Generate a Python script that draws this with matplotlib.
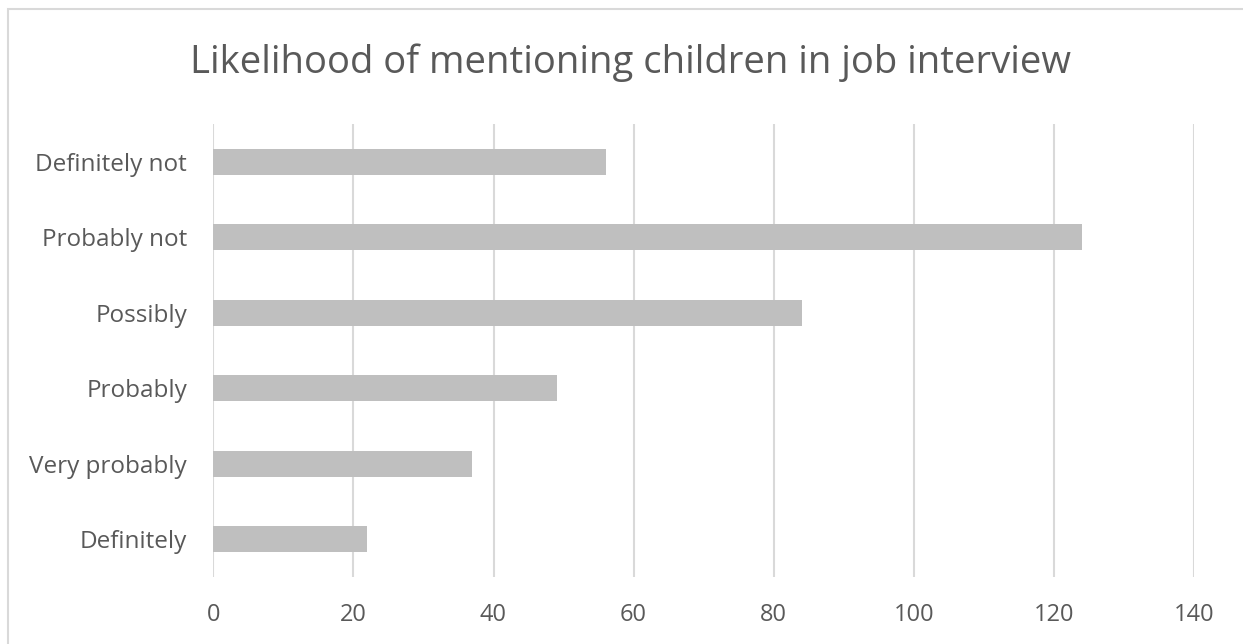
import matplotlib
matplotlib.use("Agg")
import matplotlib.pyplot as plt
from matplotlib.patches import Rectangle

categories = ["Definitely not", "Probably not", "Possibly", "Probably", "Very probably", "Definitely"]
counts = [56, 124, 84, 49, 37, 22]
x_ticks = [0, 20, 40, 60, 80, 100, 120, 140]
title = "Likelihood of mentioning children in job interview"

text_color = "#595959"
bar_color = "#bfbfbf"
grid_color = "#d9d9d9"

plt.rcParams["font.family"] = ["Open Sans", "DejaVu Sans"]

fig = plt.figure(figsize=(12.43, 6.44), dpi=100)
fig.patch.set_facecolor("white")

# outer chart border
fig.add_artist(Rectangle((8 / 1243, -0.05), 1.2, 1 - 9 / 644 + 0.05,
                         transform=fig.transFigure, fill=False,
                         edgecolor=grid_color, linewidth=1.5))

ax = fig.add_axes([213.3 / 1243, 1 - 577 / 644, (1194 - 213.3) / 1243, (577 - 124) / 644])

y = list(range(len(categories)))
ax.barh(y, counts, height=0.35, color=bar_color, zorder=3)
ax.set_ylim(len(categories) - 0.5, -0.5)
ax.set_yticks(y)
ax.set_yticklabels(categories)

ax.set_xlim(0, 140)
ax.set_xticks(x_ticks)
ax.xaxis.grid(True, color=grid_color, linewidth=1.5, zorder=0)
ax.set_axisbelow(True)

for s in ax.spines.values():
    s.set_visible(False)
ax.tick_params(axis="both", length=0, labelcolor=text_color)
ax.tick_params(axis="y", pad=19, labelsize=17.5)
ax.tick_params(axis="x", pad=19, labelsize=17)

fig.text(631 / 1243, 1 - 73 / 644, title, ha="center", va="baseline",
         fontsize=27.5, color=text_color)

fig.savefig("out.png", dpi=100, facecolor="white")
